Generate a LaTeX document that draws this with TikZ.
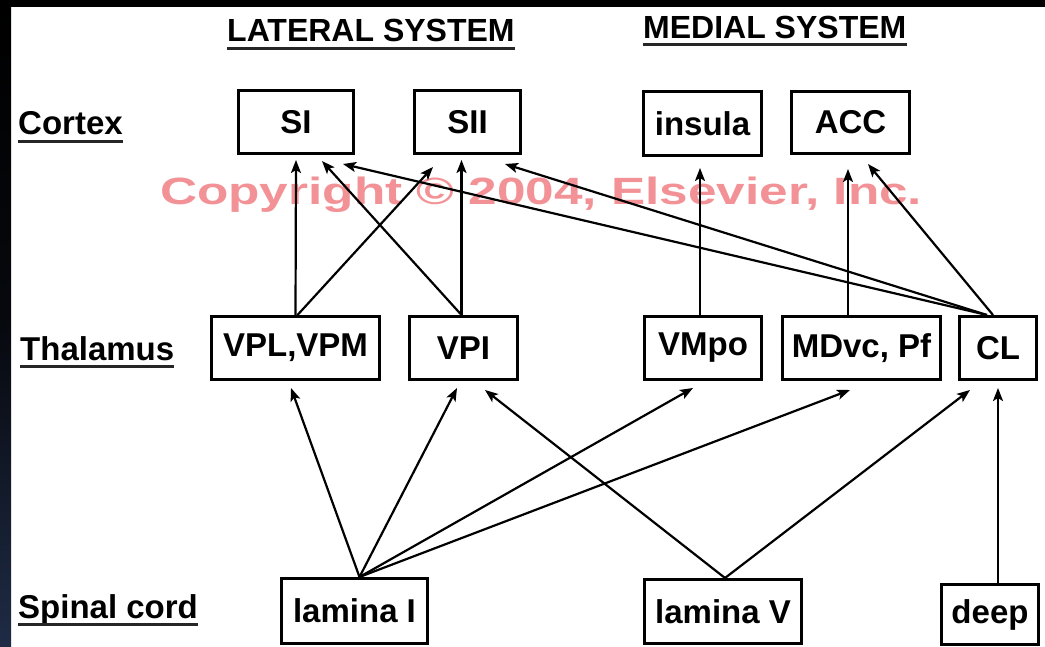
\documentclass[tikz,border=0pt]{standalone}
\usepackage{fontspec}
\setmainfont{Liberation Sans}
\usepackage{tikz}
\usetikzlibrary{arrows.meta}
\usetikzlibrary{shapes}
\usetikzlibrary{positioning}
\usetikzlibrary{backgrounds}

\definecolor{wmark}{RGB}{240,128,132}
\definecolor{navy}{RGB}{31,43,69}

\begin{document}
\begin{tikzpicture}[x=1pt,y=-1pt,font=\bfseries\fontsize{33}{40}\selectfont]
        \useasboundingbox (0,0) rectangle (1045,647);
        \fill[white] (0,0) rectangle (1045,647);
        \shade[top color=black,bottom color=navy,middle color=black!80!navy] (0,0) rectangle (11,647);
        \fill[black] (0,0) rectangle (1045,7);
        % watermark
        \node[text=wmark,opacity=0.85,inner sep=0pt,anchor=base west,
            font=\bfseries\fontsize{38}{44}\selectfont] (wm) at (160,205)
            {\scalebox{1.35}[1]{Copyright © 2004, Elsevier, Inc.}};
        % headings and row labels
        \begin{scope}[every node/.style={anchor=base west,inner sep=0pt}]
            \node[font=\bfseries\fontsize{32}{38}\selectfont] (lat) at (227,42) {LATERAL SYSTEM};
            \node[font=\bfseries\fontsize{32}{38}\selectfont] (med) at (643,39) {MEDIAL SYSTEM};
            \node (cortex) at (18,135) {Cortex};
            \node (thal) at (20,360) {Thalamus};
            \node (spinal) at (18,618) {Spinal cord};
        \end{scope}
        \begin{scope}[line width=3pt,draw=black!85]
            \draw ([yshift=-7pt]lat.base west) -- ([yshift=-7pt]lat.base east);
            \draw ([yshift=-6pt]med.base west) -- ([yshift=-6pt]med.base east);
            \draw ([yshift=-7pt]cortex.base west) -- ([yshift=-7pt]cortex.base east);
            \draw ([yshift=-6pt]thal.base west) -- ([yshift=-6pt]thal.base east);
            \draw ([yshift=-6pt]spinal.base west) -- ([yshift=-6pt]spinal.base east);
        \end{scope}
        % boxes
        \begin{scope}[every node/.style={draw,line width=3pt,inner sep=0pt}]
            \node[minimum width=115,minimum height=63] (SI) at (296,122) {SI};
            \node[minimum width=106,minimum height=63] (SII) at (467.5,122) {SII};
            \node[minimum width=118,minimum height=64] (insula) at (702.5,123.5) {insula};
            \node[minimum width=118,minimum height=62] (ACC) at (850.5,122.5) {ACC};
            \node[minimum width=168,minimum height=63] (VPL) at (295.5,348) {VPL,VPM};
            \node[minimum width=108,minimum height=63] (VPI) at (463.5,348) {VPI};
            \node[minimum width=117,minimum height=63] (VMpo) at (703,348) {VMpo};
            \node[minimum width=158,minimum height=63] (MDvc) at (861.5,348) {MDvc, Pf};
            \node[minimum width=77,minimum height=63] (CL) at (998,348) {CL};
            \node[minimum width=146,minimum height=65] (lamI) at (354.5,611) {lamina I};
            \node[minimum width=157,minimum height=64] (lamV) at (723,611.5) {lamina V};
            \node[minimum width=97,minimum height=60] (deep) at (990,614.5) {deep};
        \end{scope}
        % projections
        \begin{scope}[>={Stealth[length=13pt,width=10pt,inset=3pt]},
            every edge/.style={draw=black,line width=2.2pt}]
            \path [->] (VPL.north) edge ([yshift=-5pt]SI.south);
            \path [->] ([xshift=2pt]VPL.north) edge ([xshift=-34.5pt,yshift=-12pt]SII.south);
            \path [->] ([xshift=-2pt]VPI.north) edge ([xshift=26pt,yshift=-6pt]SI.south);
            \path [->] ([xshift=-2pt]VPI.north) edge ([xshift=-6pt,yshift=-5pt]SII.south);
            \path [->] ([xshift=-11pt]CL.north) edge ([xshift=47pt,yshift=-9pt]SI.south);
            \path [->] ([xshift=-11pt]CL.north) edge ([xshift=37.5pt,yshift=-9pt]SII.south);
            \path [->] ([xshift=-5pt]CL.north) edge ([xshift=17.5pt,yshift=-9pt]ACC.south);
            \path [->] ([xshift=-3pt]VMpo.north) edge ([xshift=-2.5pt,yshift=-11pt]insula.south);
            \path [->] ([xshift=-13.5pt]MDvc.north) edge ([xshift=-2.5pt,yshift=-14pt]ACC.south);
            \path [->] ([xshift=5pt]lamI.north) edge ([xshift=-4.5pt,yshift=-7pt]VPL.south);
            \path [->] ([xshift=5pt]lamI.north) edge ([xshift=-6.5pt,yshift=-7pt]VPI.south);
            \path [->] ([xshift=5pt]lamI.north) edge ([xshift=-10pt,yshift=-7pt]VMpo.south);
            \path [->] ([xshift=5pt]lamI.north) edge ([xshift=-11.5pt,yshift=-9pt]MDvc.south);
            \path [->] ([xshift=2pt]lamV.north) edge ([xshift=21.5pt,yshift=-9pt]VPI.south);
            \path [->] ([xshift=2pt]lamV.north) edge ([xshift=-28pt,yshift=-9pt]CL.south);
            \path [->] ([xshift=8pt]deep.north) edge ([yshift=-7pt]CL.south);
        \end{scope}
    \end{tikzpicture}
\end{document}
